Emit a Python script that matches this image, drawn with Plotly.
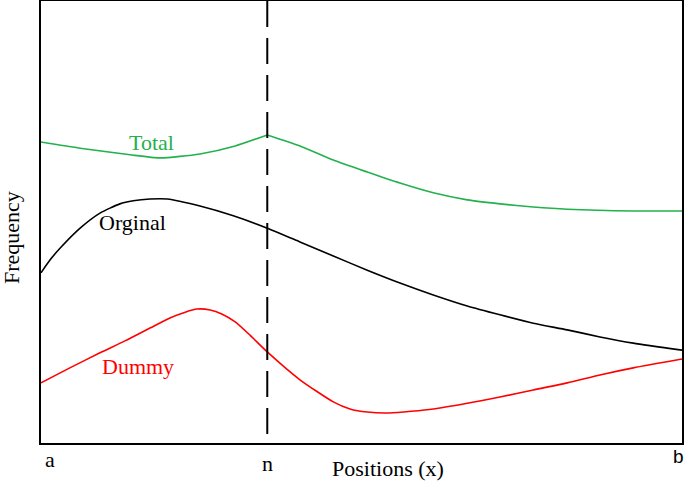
import plotly.graph_objects as go

# Positions along the axis (a = 0, b = 100), n marks the dashed split
n_pos = 35.3
tick_labels = ["a", "n", "b"]

total_x = [0, 6.1, 13.9, 18.6, 24.8, 30.3, 35.3, 40.4, 45.6, 50.9, 56.0, 61.2, 66.5, 71.6, 76.8, 82.1, 92.4, 100]
total_y = [68.1, 66.7, 65.2, 64.5, 65.4, 67.2, 69.7, 67.2, 64.0, 61.3, 58.8, 56.6, 55.0, 54.1, 53.4, 52.9, 52.5, 52.5]

orig_x = [0, 1.4, 3.0, 6.1, 9.2, 12.3, 14.4, 17.0, 19.7, 24.8, 30.0, 35.3, 40.4, 45.6, 50.9, 56.0, 61.2, 66.5, 71.6, 76.8, 82.1, 87.2, 92.4, 100]
orig_y = [38.5, 41.4, 44.1, 48.6, 52.0, 54.1, 54.8, 55.2, 55.2, 53.6, 51.4, 48.6, 45.5, 42.3, 39.1, 36.2, 33.5, 31.0, 29.0, 27.1, 25.6, 24.0, 22.6, 21.0]

dummy_x = [0, 4.5, 9.2, 13.1, 17.0, 20.1, 22.5, 24.3, 26.4, 28.2, 30.3, 32.6, 35.3, 40.4, 45.6, 48.2, 50.9, 54.4, 61.2, 66.5, 71.6, 76.8, 82.1, 87.2, 92.4, 100]
dummy_y = [13.6, 17.0, 20.4, 23.1, 26.0, 28.3, 29.6, 30.3, 30.1, 29.2, 27.4, 24.4, 20.6, 14.3, 9.3, 7.7, 7.0, 6.8, 7.7, 9.0, 10.4, 12.0, 13.6, 15.4, 17.0, 19.0]

GREEN = "#22b14c"
RED = "#ff0000"
BLACK = "#000000"
SERIF = "Liberation Serif"

fig = go.Figure()
# Total has a sharp peak at n: draw the two sides as smooth pieces meeting there
k = total_x.index(n_pos)
for xs, ys in ((total_x[:k + 1], total_y[:k + 1]), (total_x[k:], total_y[k:])):
    fig.add_trace(go.Scatter(x=xs, y=ys, mode="lines",
                             line=dict(color=GREEN, width=1.6, shape="spline", smoothing=0.6), showlegend=False))
fig.add_trace(go.Scatter(x=orig_x, y=orig_y, mode="lines", line=dict(color=BLACK, width=1.6, shape="spline", smoothing=0.6), showlegend=False))
fig.add_trace(go.Scatter(x=dummy_x, y=dummy_y, mode="lines", line=dict(color=RED, width=1.6, shape="spline", smoothing=0.6), showlegend=False))

fig.add_shape(type="line", xref="x", yref="paper", x0=n_pos, x1=n_pos, y0=1, y1=0,
              line=dict(color=BLACK, width=2, dash="26px,11px"))

def label(x, y, text, color=BLACK, family=SERIF, size=22, xref="x", yref="y", angle=0):
    fig.add_annotation(x=x, y=y, xref=xref, yref=yref, text=text, showarrow=False, textangle=angle,
                       xanchor="center", yanchor="middle", font=dict(family=family, size=size, color=color))

# curve labels
label(17.2, 68.0, "Total", GREEN)
label(14.3, 49.9, "Orginal")
label(15.1, 17.4, "Dummy", RED)

# axis tick labels
label(1.4, -0.038, tick_labels[0], yref="paper")
label(n_pos, -0.046, tick_labels[1], yref="paper")
label(99.4, -0.030, tick_labels[2], family="Liberation Sans", size=19, yref="paper")

# axis titles
label(54.1, -0.057, "Positions (x)", yref="paper")
label(-0.045, 0.464, "Frequency", xref="paper", yref="paper", angle=-90)

fig.update_xaxes(range=[0, 100], showgrid=False, zeroline=False, showticklabels=False, ticks="",
                 showline=True, mirror=True, linecolor=BLACK, linewidth=2)
fig.update_yaxes(range=[0, 100], showgrid=False, zeroline=False, showticklabels=False, ticks="",
                 showline=True, mirror=True, linecolor=BLACK, linewidth=2)

fig.update_layout(width=685, height=482, margin=dict(l=41, r=3, t=1, b=39, autoexpand=False),
                  paper_bgcolor="white", plot_bgcolor="white")

fig.write_html("out.html", config={"displayModeBar": False},
               post_script="document.body.style.margin='0';document.body.style.overflow='hidden';")
